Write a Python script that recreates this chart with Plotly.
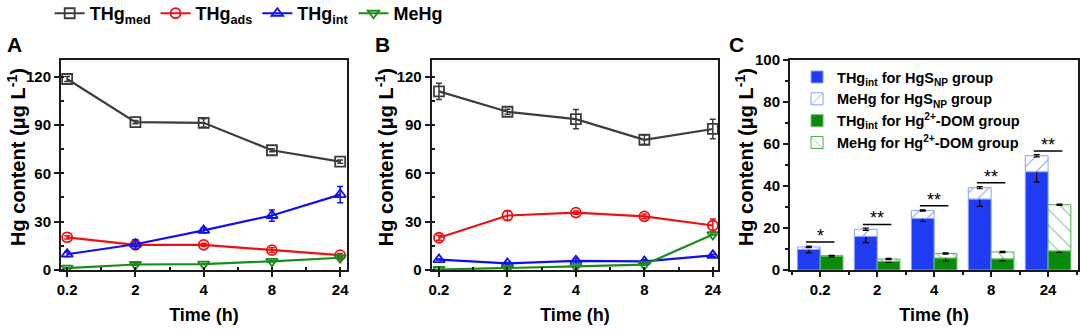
import plotly.graph_objects as go

# Sampling times (h) shown as evenly spaced categories
time_labels = ["0.2", "2", "4", "8", "24"]
pos = list(range(len(time_labels)))

# Panel A: HgS nanoparticle group (µg/L)
a_thg_med = [118.5, 91.7, 91.3, 74.3, 67.2]
a_thg_med_err = [1.5, 1.0, 2.5, 1.0, 1.0]
a_thg_ads = [20.3, 15.6, 15.6, 12.3, 9.2]
a_thg_ads_err = [1.0, 1.0, 1.0, 1.5, 1.0]
a_thg_int = [9.8, 16.0, 24.6, 33.8, 46.8]
a_thg_int_err = [1.5, 3.0, 1.5, 3.5, 5.0]
a_mehg = [1.2, 3.4, 3.7, 5.4, 7.6]
a_mehg_err = [0.3, 0.5, 0.3, 0.5, 0.5]

# Panel B: Hg2+-DOM group (µg/L)
b_thg_med = [110.8, 98.2, 93.6, 80.8, 87.5]
b_thg_med_err = [5.0, 1.5, 6.0, 3.0, 6.0]
b_thg_ads = [20.0, 33.8, 35.6, 33.3, 27.6]
b_thg_ads_err = [1.5, 3.0, 1.0, 1.5, 4.0]
b_thg_int = [6.5, 4.1, 5.7, 5.3, 9.1]
b_thg_int_err = [0.3, 0.5, 1.5, 1.0, 0.7]
b_mehg = [0.3, 1.1, 2.2, 3.3, 22.0]
b_mehg_err = [0.2, 0.3, 0.3, 0.3, 0.3]

# Significance marks between the two groups in panel C
sig_marks = ["*", "**", "**", "**", "**"]

FONT = "Liberation Sans, Arial, sans-serif"
GRAY, RED, BLUE, GREEN = "#3c3c3c", "#ee1111", "#1010ee", "#1a8c1a"
BAR_BLUE, BAR_GREEN = "#1f3cf2", "#0a8a0a"
AXIS_COLOR = "#1a1a1a"

fig = go.Figure()

series = [
    ("THg<sub>med</sub>", GRAY, "square-open", a_thg_med, a_thg_med_err, b_thg_med, b_thg_med_err),
    ("THg<sub>ads</sub>", RED, "circle-open", a_thg_ads, a_thg_ads_err, b_thg_ads, b_thg_ads_err),
    ("THg<sub>int</sub>", BLUE, "triangle-up-open", a_thg_int, a_thg_int_err, b_thg_int, b_thg_int_err),
    ("MeHg", GREEN, "triangle-down-open", a_mehg, a_mehg_err, b_mehg, b_mehg_err),
]

for name, color, symbol, ya, ea, yb, eb in series:
    for axis, yv, ev, show in (("", ya, ea, True), ("2", yb, eb, False)):
        fig.add_trace(go.Scatter(
            x=pos, y=yv, name=name, legendgroup=name, showlegend=show,
            mode="lines+markers",
            line=dict(color=color, width=2.2),
            marker=dict(symbol=symbol, size=10, color=color,
                        line=dict(color=color, width=1.8)),
            error_y=dict(type="data", array=ev, color=color, thickness=1.5, width=3),
            xaxis="x" + axis, yaxis="y" + axis,
        ))

# Panel C: stacked pairs of bars (THg_int + MeHg) for each group
bar_w = 0.4
bar_specs = [
    ("THg<sub>int</sub> for HgS<sub>NP</sub> group", a_thg_int, None, a_thg_int_err, -bar_w,
     dict(color=BAR_BLUE, line=dict(color="#8aa0ff", width=1))),
    ("MeHg for HgS<sub>NP</sub> group", a_mehg, a_thg_int, a_mehg_err, -bar_w,
     dict(color="white", line=dict(color="#8aa0ff", width=1),
          pattern=dict(shape="/", fgcolor=BAR_BLUE, bgcolor="white", size=11, solidity=0.1))),
    ("THg<sub>int</sub> for Hg<sup>2+</sup>-DOM group", b_thg_int, None, b_thg_int_err, 0.0,
     dict(color=BAR_GREEN, line=dict(color="#6cc06c", width=1))),
    ("MeHg for Hg<sup>2+</sup>-DOM group", b_mehg, b_thg_int, b_mehg_err, 0.0,
     dict(color="white", line=dict(color="#4caf4c", width=1),
          pattern=dict(shape="\\", fgcolor=BAR_GREEN, bgcolor="white", size=11, solidity=0.1))),
]
for name, yv, base, ev, off, marker in bar_specs:
    fig.add_trace(go.Bar(
        x=pos, y=yv, base=base, name=name, width=bar_w, offset=off,
        marker=marker,
        error_y=dict(type="data", array=ev, color="black", thickness=1.2, width=3),
        xaxis="x3", yaxis="y3", legend="legend2",
    ))

# Significance brackets above each time point
for i, mark in enumerate(sig_marks):
    top = a_thg_int[i] + a_mehg[i] + 2.3
    fig.add_shape(type="line", xref="x3", yref="y3",
                  x0=pos[i] - 0.25, x1=pos[i] + 0.25, y0=top, y1=top,
                  line=dict(color="black", width=1.5))
    fig.add_annotation(x=pos[i], y=top, xref="x3", yref="y3", text=mark,
                       showarrow=False, yanchor="bottom", yshift=-6,
                       font=dict(family=FONT, size=18, color="black"))

tick_font = dict(family=FONT, size=15, color="black", weight="bold")
title_font = dict(family=FONT, size=18, color="black", weight="bold")


def xaxis_cfg(domain, rng, minor_ticks):
    return dict(domain=domain, range=rng, tickmode="array", tickvals=pos,
                ticktext=time_labels, tickfont=tick_font, automargin=False,
                title=dict(text="Time (h)", font=title_font, standoff=11),
                showline=True, linewidth=2, linecolor=AXIS_COLOR, mirror=True,
                ticks="outside", ticklen=5, tickwidth=2, tickcolor=AXIS_COLOR,
                minor=dict(dtick=0.5, tick0=0, ticks=minor_ticks, ticklen=3,
                           tickwidth=1.5, tickcolor=AXIS_COLOR),
                showgrid=False, zeroline=False, fixedrange=True)


def yaxis_cfg(domain, rng, dtick, minor_ticks, anchor):
    return dict(domain=domain, range=rng, dtick=dtick, tick0=0, tickfont=tick_font,
                automargin=False,
                showline=True, linewidth=2, linecolor=AXIS_COLOR, mirror=True,
                ticks="outside", ticklen=5, tickwidth=2, tickcolor=AXIS_COLOR,
                minor=dict(dtick=dtick / 2, tick0=0, ticks=minor_ticks, ticklen=3,
                           tickwidth=1.5, tickcolor=AXIS_COLOR),
                showgrid=False, zeroline=False, anchor=anchor, fixedrange=True)


ydom = [0.1818, 0.8182]
fig.update_layout(
    width=1080, height=330,
    margin=dict(l=0, r=0, t=0, b=0, autoexpand=False),
    paper_bgcolor="white", plot_bgcolor="white",
    barmode="overlay",
    font=dict(family=FONT, color="black"),
    xaxis=xaxis_cfg([0.0565, 0.3213], [-0.09, 4.1], "inside"),
    yaxis=yaxis_cfg(ydom, [0, 130.3], 30, "inside", "x"),
    xaxis2=xaxis_cfg([0.3997, 0.6651], [-0.107, 4.08], "inside"),
    yaxis2=yaxis_cfg(ydom, [0, 130.3], 30, "inside", "x2"),
    xaxis3=xaxis_cfg([0.7315, 0.9984], [-0.53, 4.53], "outside"),
    yaxis3=yaxis_cfg(ydom, [0, 100], 20, "outside", "x3"),
    legend=dict(orientation="h", x=0.046, y=1.015, xanchor="left", yanchor="top",
                font=dict(family=FONT, size=18, color="black", weight="bold"),
                bgcolor="rgba(0,0,0,0)", itemclick=False, itemdoubleclick=False),
    legend2=dict(x=0.738, y=0.815, xanchor="left", yanchor="top",
                 font=dict(family=FONT, size=14.5, color="black", weight="bold"),
                 bgcolor="rgba(0,0,0,0)", tracegroupgap=0,
                 itemclick=False, itemdoubleclick=False),
    showlegend=True,
)

# Y-axis titles, placed close to the tick labels
for xp in (0.0148, 0.3556, 0.6889):
    fig.add_annotation(text="Hg content (μg L<sup>-1</sup>)", xref="paper", yref="paper",
                       x=xp, y=0.524, textangle=-90, showarrow=False,
                       xanchor="center", yanchor="middle",
                       font=dict(family=FONT, size=20, color="black", weight="bold"))

# Panel letters
for label, xp in (("A", 0.005), ("B", 0.345), ("C", 0.673)):
    fig.add_annotation(text=label, xref="paper", yref="paper", x=xp, y=0.905,
                       xanchor="left", yanchor="top", showarrow=False,
                       font=dict(family=FONT, size=21, color="black", weight="bold"))

fig.write_html("out.html")
